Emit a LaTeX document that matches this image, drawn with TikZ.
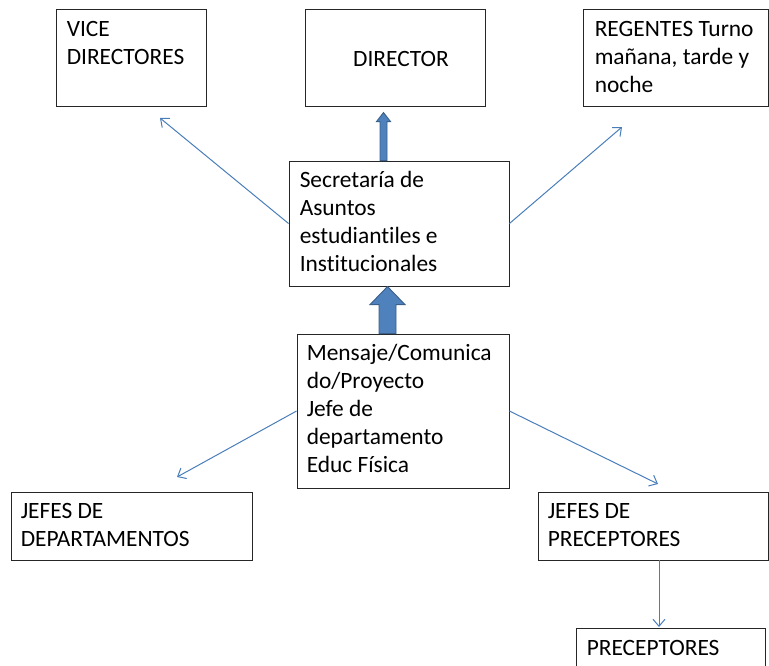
\documentclass[tikz,border=0pt]{standalone}
\usepackage{fontspec}
\setmainfont{Carlito}[Ligatures=NoCommon]
\usetikzlibrary{arrows.meta,calc}
\definecolor{thinblue}{HTML}{4A7EBB}
\definecolor{blockfill}{HTML}{4F81BD}
\definecolor{blockdraw}{HTML}{3A5F8A}
\newcommand{\fl}{\rule{0pt}{20pt}}
\begin{document}
\begin{tikzpicture}[x=1pt,y=-1pt,
  box/.style={draw=black!85,line width=0.9pt,inner sep=0pt,rectangle},
  txt/.style={anchor=north west,inner sep=0pt,align=left,font=\fontsize{23.4}{28}\selectfont},
  thin/.style={draw=thinblue,line width=1pt,-{Straight Barb[length=7pt,width=12pt]}},
  block/.style={fill=blockfill,draw=blockdraw,line width=0.9pt}]
\useasboundingbox (0,0) rectangle (769,665);
\clip (0,0) rectangle (769,665);
% boxes
\node[box,minimum width=150pt,minimum height=97pt] (vice) at (131,57.5) {};
\node[box,minimum width=180pt,minimum height=97pt] (dir) at (395,57.5) {};
\node[box,minimum width=185pt,minimum height=97pt] (reg) at (675.5,57.5) {};
\node[box,minimum width=220pt,minimum height=125pt] (sec) at (399,223.5) {};
\node[box,minimum width=212pt,minimum height=154pt] (men) at (403,411) {};
\node[box,minimum width=241pt,minimum height=68pt] (jdep) at (131.5,526) {};
\node[box,minimum width=230pt,minimum height=68pt] (jpre) at (653,526) {};
\node[box,minimum width=189pt,minimum height=72pt] (prec) at (670.5,664) {};
% texts
\node[txt] (vicet) at ($(vice.north west)+(11,7.5)$) {\fl VICE\\DIRECTORES};
\node[txt] (dirt) at (353,46) {\fl DIRECTOR};
\node[txt] (regt) at ($(reg.north west)+(12,7.5)$) {\fl REGENTES Turno\\mañana, tarde y\\noche};
\node[txt] (sect) at ($(sec.north west)+(11,7)$) {\fl Secretaría de\\Asuntos\\estudiantiles e\\Institucionales};
\node[txt] (ment) at ($(men.north west)+(10,7)$) {\fl Mensaje/Comunica\\do/Proyecto\\Jefe de\\departamento\\Educ Física};
\node[txt] (jdept) at ($(jdep.north west)+(10,7)$) {\fl JEFES DE\\DEPARTAMENTOS};
\node[txt] (jpret) at ($(jpre.north west)+(10,7)$) {\fl JEFES DE\\PRECEPTORES};
\node[txt] (prect) at ($(prec.north west)+(11,8)$) {\fl PRECEPTORES};
% thin connectors
\coordinate (vt) at (160,118);
\coordinate (rt) at (622,127);
\coordinate (dt) at (177,477);
\coordinate (pt) at (658,484);
\coordinate (qt) at (659,627);
\draw[thin] (sec.west) -- (vt);
\draw[thin] (sec.east) -- (rt);
\draw[thin] (men.west) -- (dt);
\draw[thin] (men.east) -- (pt);
\draw[thin] (jpre.south -| qt) -- (qt);
% block arrows
\coordinate (a1) at ([xshift=-15.5pt]sec.north);
\draw[block] (a1) ++(-3.5,0) -- ++(0,-39) -- ++(-3.5,0) -- ++(7,-9) -- ++(7,9) -- ++(-3.5,0) -- ++(0,39) -- cycle;
\coordinate (a2) at ([xshift=-15.5pt]men.north);
\draw[block] (a2) ++(-8.5,0) -- ++(0,-29) -- ++(-9,0) -- ++(17.5,-18) -- ++(17.5,18) -- ++(-9,0) -- ++(0,29) -- cycle;
\end{tikzpicture}
\end{document}
